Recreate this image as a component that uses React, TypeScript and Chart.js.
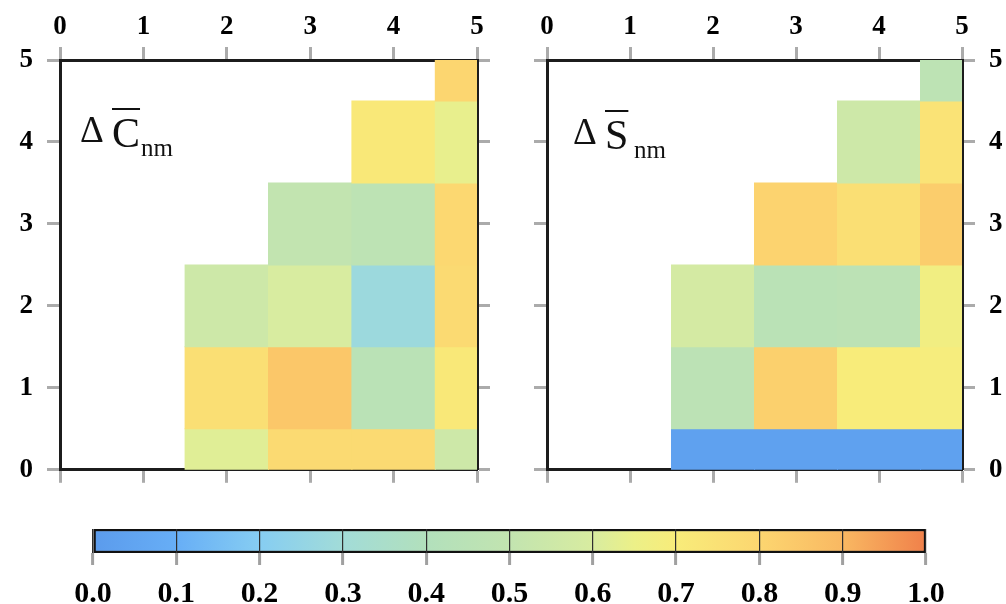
import React, { useEffect, useRef } from "react";
import { Chart, registerables } from "chart.js";

Chart.register(...registerables);

// ---- data ----
const degrees = [2, 3, 4, 5]; // n
const axisTicks = [0, 1, 2, 3, 4, 5];
// values indexed [degree index][order m]
const deltaC = [
  [0.62, 0.76, 0.55],
  [0.78, 0.85, 0.6, 0.5],
  [0.78, 0.45, 0.28, 0.47, 0.72],
  [0.55, 0.72, 0.78, 0.79, 0.64, 0.8],
];
const deltaS = [
  [0.03, 0.46, 0.58],
  [0.03, 0.82, 0.45, 0.81],
  [0.03, 0.7, 0.46, 0.76, 0.55],
  [0.03, 0.69, 0.67, 0.83, 0.74, 0.47],
];
const colorbarTicks = [0, 0.1, 0.2, 0.3, 0.4, 0.5, 0.6, 0.7, 0.8, 0.9, 1.0];

// colormap
const colorStops = [0, 0.1, 0.2, 0.3, 0.4, 0.5, 0.6, 0.65, 0.7, 0.8, 0.9, 1.0];
const colorHex = [
  "#5b9bec",
  "#67aef6",
  "#86cdf2",
  "#a2dcd8",
  "#b2e0bc",
  "#c2e4b0",
  "#d8eca0",
  "#ecf088",
  "#f8ec7a",
  "#fcd670",
  "#f9b862",
  "#f0804a",
];

function hexToRgb(h: string) {
  const n = parseInt(h.slice(1), 16);
  return [(n >> 16) & 255, (n >> 8) & 255, n & 255];
}

function colorFor(v: number) {
  for (let i = 1; i < colorStops.length; i++) {
    if (v <= colorStops[i]) {
      const t = (v - colorStops[i - 1]) / (colorStops[i] - colorStops[i - 1]);
      const a = hexToRgb(colorHex[i - 1]);
      const b = hexToRgb(colorHex[i]);
      const c = a.map((x, k) => Math.round(x + (b[k] - x) * t));
      return `rgb(${c[0]},${c[1]},${c[2]})`;
    }
  }
  return colorHex[colorHex.length - 1];
}

const serif = "'Liberation Serif', 'Times New Roman', serif";

function heatConfig(values: number[][], labelSide: "left" | "right", leftW: number, rightW: number): any {
  const pts: any[] = [];
  const colors: string[] = [];
  values.forEach((col, i) =>
    col.forEach((v, m) => {
      pts.push({ x: degrees[i], y: [m - 0.5, m + 0.5] });
      colors.push(colorFor(v));
    })
  );
  const font = { family: serif, size: 27, weight: "bold" as const };
  const grid = {
    drawOnChartArea: false,
    drawTicks: true,
    tickLength: 13,
    tickColor: "#ababab",
    tickWidth: 3,
    offset: false,
  };
  const border = { display: true, color: "#1c1c1c", width: 3 };
  const setTicks = (s: any) => {
    s.ticks = axisTicks.map((v) => ({ value: v }));
  };
  const base = { type: "linear", min: 0, max: 5, offset: false, grid, border, afterBuildTicks: setTicks };
  return {
    type: "bar",
    data: {
      datasets: [
        {
          data: pts,
          backgroundColor: colors,
          borderWidth: 0,
          inflateAmount: 0.5,
          barPercentage: 1,
          categoryPercentage: 1,
          clip: 0,
          xAxisID: "x",
          yAxisID: "y",
        },
      ],
    },
    options: {
      animation: false,
      responsive: false,
      layout: { padding: 0 },
      plugins: { legend: { display: false }, tooltip: { enabled: false } },
      scales: {
        x: {
          ...base,
          position: "top",
          ticks: { font, color: "#000", padding: 4, maxRotation: 0, autoSkip: false },
          afterFit: (s: any) => {
            s.height = 60;
          },
        },
        x2: {
          ...base,
          position: "bottom",
          ticks: { display: false },
          afterFit: (s: any) => {
            s.height = 25;
          },
        },
        y: {
          ...base,
          position: "left",
          ticks: { display: labelSide === "left", font, color: "#000", padding: 14, autoSkip: false },
          afterFit: (s: any) => {
            s.width = leftW;
          },
        },
        y2: {
          ...base,
          position: "right",
          ticks: { display: labelSide === "right", font, color: "#000", padding: 14, autoSkip: false },
          afterFit: (s: any) => {
            s.width = rightW;
          },
        },
      },
    },
  };
}

function colorbarConfig(): any {
  return {
    type: "bar",
    data: {
      labels: ["scale"],
      datasets: [
        {
          data: [[colorbarTicks[0], colorbarTicks[colorbarTicks.length - 1]]],
          backgroundColor: (ctx: any) => {
            const chart = ctx.chart;
            const area = chart.chartArea;
            if (!area) return colorHex[0];
            const g = chart.ctx.createLinearGradient(area.left, 0, area.right, 0);
            colorStops.forEach((s, i) => g.addColorStop(s, colorHex[i]));
            return g;
          },
          borderColor: "#111",
          borderWidth: 2.5,
          borderSkipped: false,
          barPercentage: 1,
          categoryPercentage: 1,
        },
      ],
    },
    options: {
      indexAxis: "y",
      animation: false,
      responsive: false,
      layout: { padding: { left: 93, right: 80, top: 29, bottom: 0 } },
      plugins: { legend: { display: false }, tooltip: { enabled: false } },
      scales: {
        x: {
          type: "linear",
          min: 0,
          max: 1,
          position: "bottom",
          afterBuildTicks: (s: any) => {
            s.ticks = colorbarTicks.map((v) => ({ value: v }));
          },
          grid: {
            drawOnChartArea: true,
            color: "#2e2e2e",
            lineWidth: 1.2,
            tickColor: "#a0a0a0",
            tickWidth: 3,
            tickLength: 12,
            z: 1,
          },
          border: { display: false },
          ticks: {
            font: { family: serif, size: 30, weight: "bold" },
            color: "#000",
            padding: 11,
            maxRotation: 0,
            autoSkip: false,
            callback: (v: any) => Number(v).toFixed(1),
          },
          afterFit: (s: any) => {
            s.height = 51;
          },
        },
        y: { display: false },
      },
    },
  };
}

function ChartCanvas({ config, width, height, left, top }: any) {
  const ref = useRef<HTMLCanvasElement | null>(null);
  useEffect(() => {
    if (!ref.current) return;
    const chart = new Chart(ref.current, config);
    return () => chart.destroy();
  }, []);
  return (
    <canvas
      ref={ref}
      width={width}
      height={height}
      style={{ position: "absolute", left, top, width, height }}
    />
  );
}

function Label({ letter, x, top }: { letter: string; x: number; top: number }) {
  const txt: React.CSSProperties = { position: "absolute", fontFamily: serif, lineHeight: 1, color: "#111", whiteSpace: "nowrap" };
  return (
    <>
      <span style={{ ...txt, left: x, top: top - 1, fontSize: 37 }}>Δ</span>
      <span
        style={{
          ...txt,
          left: x + 32,
          top: top,
          fontSize: 42,
          textDecoration: "overline",
          textDecorationThickness: "2px",
        }}
      >
        {letter}
      </span>
      <span style={{ ...txt, left: x + 61, top: top + 23, fontSize: 25 }}>nm</span>
    </>
  );
}

export default function App() {
  useEffect(() => {
    document.body.style.margin = "0";
  }, []);
  return (
    <div style={{ position: "relative", width: 1006, height: 604, overflow: "hidden", background: "#fff" }}>
      <ChartCanvas config={heatConfig(deltaC, "left", 60, 23)} width={500} height={500} left={0} top={0} />
      <ChartCanvas config={heatConfig(deltaS, "right", 47, 44)} width={506} height={500} left={500} top={0} />
      <ChartCanvas config={colorbarConfig()} width={1006} height={104} left={0} top={500} />
      <Label letter="C" x={80} top={112} />
      <Label letter="S" x={573} top={114} />
    </div>
  );
}
